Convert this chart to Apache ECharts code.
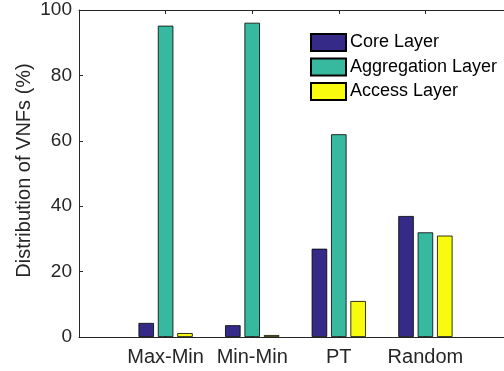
<!DOCTYPE html>
<html><head><meta charset="utf-8">
<script src="https://cdn.jsdelivr.net/npm/echarts@6/dist/echarts.min.js"></script>
<style>html,body{margin:0;padding:0;background:#fff;}#c{width:504px;height:371px;}</style>
</head><body><div id="c"></div>
<script>
const categories = ['Max-Min', 'Min-Min', 'PT', 'Random'];
const coreLayer = [4.3, 3.6, 27, 37];
const aggregationLayer = [95.2, 96.1, 62, 32];
const accessLayer = [1.2, 0.6, 11, 31];
const seriesNames = ['Core Layer', 'Aggregation Layer', 'Access Layer'];
const yTicks = [0, 20, 40, 60, 80, 100];

const pad = arr => ['-'].concat(arr, ['-']);
const cats = [''].concat(categories, ['']);
const colors = ['#352a87', '#36b99e', '#f9fb0e'];
const font = 'Liberation Sans, Arial, Helvetica, sans-serif';
const axisCol = '#262626';

const chart = echarts.init(document.getElementById('c'), null, {renderer: 'canvas'});
const mk = (name, data, i) => ({
  name, type: 'bar', data: pad(data), barWidth: 15.5, barGap: '25%',
  itemStyle: {color: colors[i], borderColor: '#000', borderWidth: 0.8},
  xAxisIndex: 0, yAxisIndex: 0
});
chart.setOption({
  animation: false,
  textStyle: {fontFamily: font},
  grid: {left: 79, top: 10, width: 433, height: 327, outerBoundsMode: 'none', containLabel: false},
  legend: {
    orient: 'vertical', left: 310, top: 33, padding: 0, icon: 'rect',
    itemWidth: 35, itemHeight: 17, itemGap: 5.5,
    textStyle: {fontSize: 18, color: '#000', fontFamily: font, padding: [0, 0, 0, -1], lineHeight: 17},
    data: seriesNames
  },
  xAxis: [{
    type: 'category', data: cats, boundaryGap: false, position: 'bottom',
    axisLine: {lineStyle: {color: axisCol, width: 1}},
    axisTick: {inside: true, length: 4, lineStyle: {color: axisCol}},
    axisLabel: {fontSize: 20, color: axisCol, margin: 10, fontFamily: font, interval: 0},
    splitLine: {show: false}
  }, {
    type: 'category', data: cats, boundaryGap: false, position: 'top',
    axisLine: {lineStyle: {color: axisCol, width: 1}},
    axisTick: {inside: true, length: 4, lineStyle: {color: axisCol}},
    axisLabel: {show: false}, splitLine: {show: false}
  }],
  yAxis: [{
    type: 'value', min: yTicks[0], max: yTicks[yTicks.length - 1], interval: 20,
    axisLine: {show: true, lineStyle: {color: axisCol, width: 1}},
    axisTick: {show: true, inside: true, length: 4, lineStyle: {color: axisCol}},
    axisLabel: {fontSize: 19, color: axisCol, margin: 7, fontFamily: font},
    splitLine: {show: false},
    name: 'Distribution of VNFs (%)', nameLocation: 'middle', nameGap: 45, nameMoveOverlap: false,
    nameTextStyle: {fontSize: 20, color: axisCol, fontFamily: font, padding: [0, 0, 0, 6]}
  }],
  series: [mk(seriesNames[0], coreLayer, 0), mk(seriesNames[1], aggregationLayer, 1), mk(seriesNames[2], accessLayer, 2)]
});
</script></body></html>
